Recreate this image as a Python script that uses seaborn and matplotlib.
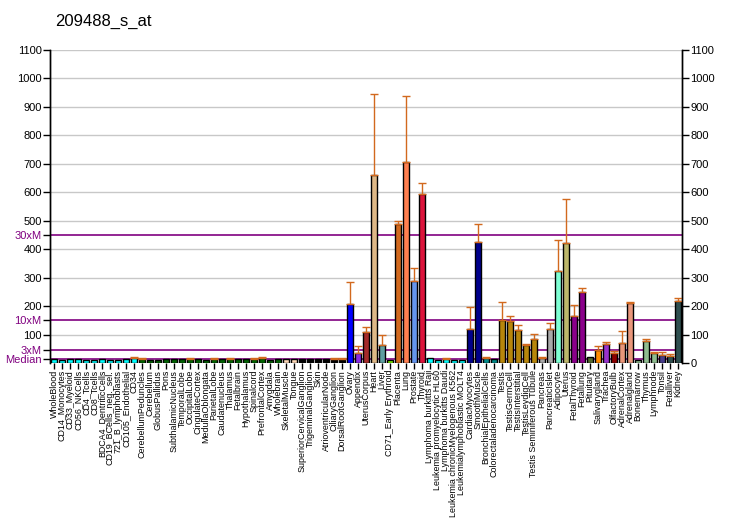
import numpy as np
import pandas as pd
import matplotlib
matplotlib.use("Agg")
import matplotlib.pyplot as plt
import seaborn as sns

# Data
tissues = ['WholeBlood', 'CD14_Monocytes', 'CD33_Myeloid', 'CD56_NKCells', 'CD4_Tcells',
           'CD8_Tcells', 'BDCA4_DentriticCells', 'CD19_BCells_neg._sel.', '721_B_lymphoblasts',
           'CD105_Endothelial', 'CD34', 'CerebellumPeduncles', 'Cerebellum', 'GlobusPallidus',
           'Pons', 'SubthalamicNucleus', 'TemporalLobe', 'OccipitalLobe', 'CingulateCortex',
           'MedullaOblongata', 'ParietalLobe', 'Caudatenucleus', 'Thalamus', 'Fetalbrain',
           'Hypothalamus', 'Spinalcord', 'PrefrontalCortex', 'Amygdala', 'Wholebrain',
           'SkeletalMuscle', 'Tongue', 'SuperiorCervicalGanglion', 'TrigeminalGanglion', 'Skin',
           'AtrioventricularNode', 'CiliaryGanglion', 'DorsalRootGanglion', 'Ovary', 'Appendix',
           'UterusCorpus', 'Heart', 'Liver', 'CD71_Early Erythroid', 'Placenta', 'Lung',
           'Prostate', 'Thyroid', 'Lymphoma burkitts Raji', 'Leukemia promyelocytic HL60',
           'Lymphoma burkitts Daudi', 'Leukemia chronicMyelogenous K562',
           'Leukemialymphoblastic MOLT4', 'CardiacMyocytes', 'SmoothMuscle',
           'BronchialEpithelialCells', 'Colorectaladenocarcinoma', 'Testis', 'TestisGermCell',
           'TestisInterstitial', 'TestisLeydigCell', 'Testis Seminiferous Tubule', 'Pancreas',
           'PancreaticIslet', 'Adipocyte', 'Uterus', 'FetalThyroid', 'Fetallung', 'Pituitary',
           'Salivarygland', 'Trachea', 'OlfactoryBulb', 'AdrenalCortex', 'Adrenalgland',
           'Bonemarrow', 'Thymus', 'Lymphnode', 'Tonsil', 'Fetalliver', 'Kidney']

values = [13, 9, 13, 13, 9, 9, 13, 9, 9, 13, 18,
          13, 9, 9, 13, 13, 13, 13, 13, 9, 13, 13, 13, 13, 13, 13, 18, 9, 13,
          13, 13, 13, 13, 13, 13, 13, 13,
          208, 35, 109, 662, 64, 12, 490, 706, 289, 593,
          18, 9, 14, 12, 9,
          120, 424, 18, 14,
          152, 149, 116, 65, 85,
          18, 120, 325, 421, 166, 251, 21, 45, 67, 35, 71, 212,
          11, 78, 35, 28, 25, 219]

# upper end of the error bar (nan = none drawn)
err_top = [np.nan] * 10 + [21,
           16, np.nan, np.nan, np.nan, np.nan, np.nan, 16, np.nan, np.nan, 16, np.nan, 16,
           np.nan, np.nan, 16, 21, np.nan, np.nan,
           np.nan, np.nan, np.nan, np.nan, np.nan, np.nan, 16, 16,
           285, 59, 127, 945, 99, np.nan, 500, 939, 334, 632,
           np.nan, np.nan, 18, np.nan, np.nan,
           198, 487, 21, np.nan,
           215, 166, 134, 67, 102,
           21, 141, 434, 576, 205, 265, np.nan, 60, 74, 42, 113, 216,
           np.nan, 86, 38, 40, 32, 229]

colors = (['#00FFFF'] * 11 + ['#006400'] * 18 + ['#FFDAB9'] * 2 + ['#000000'] * 6 +
          ['#0000FF', '#8A2BE2', '#A52A2A', '#DEB887', '#5F9EA0', '#7CFC00', '#D2691E',
           '#FF7F50', '#6495ED', '#DC143C'] +
          ['#00FFFF'] * 5 + ['#00008B'] * 2 + ['#008B8B'] * 2 + ['#B8860B'] * 5 +
          ['#A9A9A9'] * 2 + ['#7FFFD4', '#BDB76B'] + ['#8B008B'] * 2 +
          ['#556B2F', '#FF8C00', '#9932CC', '#8B0000'] + ['#E9967A'] * 2 +
          ['#8FBC8F'] * 3 + ['#483D8B'] + ['#2F4F4F'] * 2)

marks = {'Median': 14, '3xM': 45, '10xM': 150, '30xM': 450}

df = pd.DataFrame({'tissue': tissues, 'value': values})

plt.rcParams['font.family'] = ['Liberation Sans', 'DejaVu Sans']

fig = plt.figure(figsize=(7.32, 5.30), dpi=100)
ax = fig.add_axes([50 / 732, 1 - 363 / 530, 632 / 732, 313 / 530])

# grid and reference lines behind bars
for g in range(100, 1200, 100):
    ax.axhline(g, color='#C8C8C8', lw=1, zorder=0)
for name, v in marks.items():
    ax.axhline(v, color='#800080', lw=1.2, zorder=1)

sns.barplot(data=df, x='tissue', y='value', hue='tissue', palette=colors, legend=False,
            saturation=1, width=0.75, edgecolor='black', linewidth=1, ax=ax, zorder=2)

xs = np.arange(len(tissues))
vals = np.array(values, dtype=float)
tops = np.array(err_top, dtype=float)
ok = ~np.isnan(tops)
ax.errorbar(xs[ok], vals[ok], yerr=[np.zeros(ok.sum()), tops[ok] - vals[ok]],
            fmt='none', ecolor='#D2691E', elinewidth=1, capsize=3, capthick=1, zorder=3)

ax.set_xlim(-0.5, len(tissues) - 0.5)
ax.set_ylim(0, 1100)
ax.set_xlabel('')
ax.set_ylabel('')
ax.set_xticks(xs)
ax.set_xticklabels(tissues, rotation=90, fontsize=6.4)
ax.tick_params(axis='x', length=4, width=1, pad=1)

# left axis: numbers plus the purple marks
left_vals = list(range(100, 1200, 100)) + list(marks.values())
left_labels = [str(v) for v in range(100, 1200, 100)] + list(marks.keys())
ax.set_yticks(left_vals)
ax.set_yticklabels(left_labels, fontsize=8)
ax.tick_params(axis='y', length=5, width=1, pad=1)
for tick, lab in zip(ax.yaxis.get_major_ticks(), left_labels):
    if lab in marks:
        tick.label1.set_color('#800080')
        tick.tick1line.set_color('#800080')

ax2 = ax.twinx()
ax2.set_ylim(0, 1100)
ax2.set_yticks(range(0, 1200, 100))
ax2.set_yticklabels([str(v) for v in range(0, 1200, 100)], fontsize=8)
ax2.tick_params(axis='y', length=5, width=1, pad=1)

for a in (ax, ax2):
    a.spines['top'].set_visible(False)
    a.spines['bottom'].set_visible(False)
    a.spines['left'].set_linewidth(1)
    a.spines['right'].set_linewidth(1)

fig.text(55 / 732, 1 - 21 / 530, '209488_s_at', fontsize=12, va='center', ha='left')

fig.savefig('out.png', dpi=100)
